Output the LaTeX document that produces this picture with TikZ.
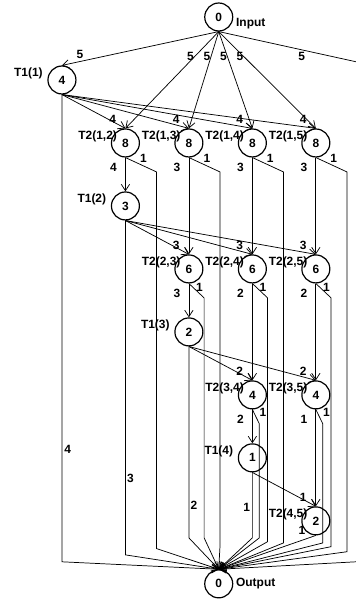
\documentclass[tikz,border=0pt]{standalone}
\usepackage{fontspec}
\setmainfont{Liberation Sans}
\usepackage{tikz}
\usetikzlibrary{arrows.meta,positioning,calc}
\newcommand{\lblfont}{\fontsize{9}{10}\selectfont\bfseries}
\tikzset{
  task/.style={draw, circle, line width=0.9pt, minimum size=7.4mm, inner sep=0pt, font=\lblfont},
  tname/.style={font=\lblfont, inner sep=0pt, anchor=east},
  lbl/.style={font=\lblfont, inner sep=0pt},
  wire/.style={line width=0.55pt},
  arr/.style={wire, -{Straight Barb[length=1.7mm,width=2.2mm]}}}

\begin{document}
\begin{tikzpicture}[x=1.68cm, y=-1.667cm]
  \useasboundingbox (-0.976,-0.27) rectangle (4.63,9.32);
  % input / output
  \node[task] (in) at (2.47,0) {0};
  \node[task] (out) at (2.47,9) {0};
  \node[tname, anchor=west] (inname) at ($(in.center)+(0.27,0.11)$) {Input};
  \node[tname, anchor=west] (outname) at ($(out.center)+(0.27,0)$) {Output};
  \coordinate (offin) at (4.63,0.71);
  \coordinate (offout) at (4.63,8.65);
  % pivot tasks T1(k)
  \foreach \k/\v in {1/4,2/3,3/2,4/1} {
    \node[task] (piv\k) at (\k-1,2*\k-1) {\v};
    \node[tname] (pivname\k) at ($(piv\k)+(-0.30,-0.11)$) {T1(\k)};
  }
  % update tasks T2(k,j)
  \foreach \k/\v/\first in {1/8/2,2/6/3,3/4/4,4/2/5} {
    \foreach \j in {\first,...,5} {
      \node[task] (upd\k\j) at (\j-1,2*\k) {\v};
      \node[tname] (updname\k\j) at ($(upd\k\j)+(-0.13,-0.11)$) {T2(\k,\j)};
    }
  }
  % from input
  \draw[arr] (in.south) -- (piv1.north) node[lbl, pos=0.885, yshift=5pt] {5};
  \foreach \j in {2,...,5}
    \draw[arr] (in.south) -- (upd1\j.north) node[lbl, pos=0.26, xshift=-3pt] {5};
  \draw[wire] (in.south) -- (offin) node[lbl, pos=0.606, yshift=-5pt] {5};
  % pivot -> updates
  \foreach \k/\w/\first in {1/4/2,2/3/3,3/2/4,4/1/5}
    \foreach \j in {\first,...,5}
      \draw[arr] (piv\k.south) -- (upd\k\j.north) node[lbl, at end, xshift=-9.5pt, yshift=7pt] {\w};
  % update -> next step
  \foreach \k/\j/\w/\nxt in {1/2/4/piv2, 1/3/3/upd23, 1/4/3/upd24, 1/5/3/upd25,
                             2/3/3/piv3, 2/4/2/upd34, 2/5/2/upd35,
                             3/4/2/piv4, 3/5/1/upd45}
    \draw[arr] (upd\k\j.south) -- (\nxt.north) node[lbl, at start, xshift=-9pt, yshift=-7.5pt] {\w};
  % update -> output
  \foreach \k/\j/\x/\bend/\lx/\ly in {1/2/1.49/8.44/13.5/-0.75, 1/3/2.49/8.4/13.5/-0.75,
                                      1/4/3.49/8.35/13.5/-0.75, 1/5/4.49/8.49/13.5/-0.75,
                                      2/3/2.24/8.27/8/-3, 2/4/3.24/8.33/8/-3, 2/5/4.24/8.41/8/-3,
                                      3/4/3.11/8.27/8/-2, 3/5/4.11/8.35/8/-2}
    \draw[arr] (upd\k\j.south) node[lbl, xshift=\lx pt, yshift=\ly pt] {1}
      -- (\x,2*\k+0.46) -- (\x,\bend) -- (out.north);
  \draw[arr] (upd45.south) node[lbl, xshift=-10.5pt, yshift=4pt] {1} -- (out.north);
  % pivot -> output
  \foreach \k/\w/\bend/\lx/\ly in {1/4/8.65/0.09/6.87, 2/3/8.54/1.08/7.32,
                                   3/2/8.27/2.08/7.76, 4/1/8.27/2.91/7.78}
    \draw[arr] (piv\k.south) -- (\k-1,\bend) -- (out.north) node[lbl] at (\lx,\ly) {\w};
  \draw[arr] (offout) -- (out.north);
\end{tikzpicture}
\end{document}
